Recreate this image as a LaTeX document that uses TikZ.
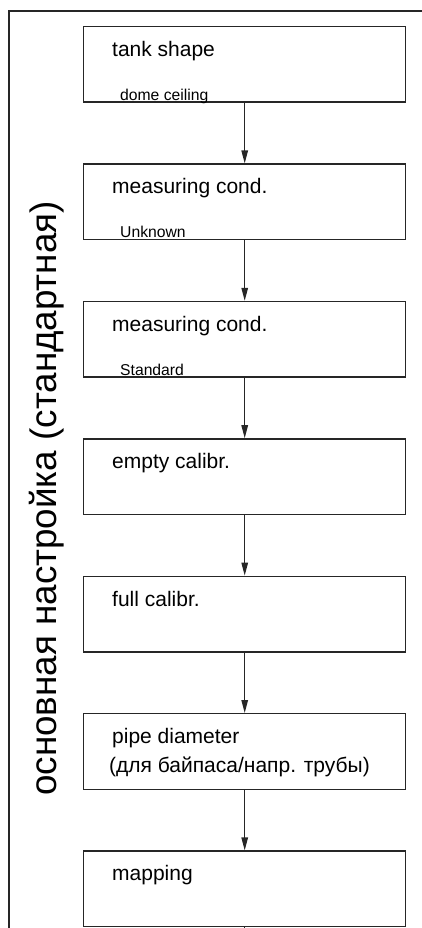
\documentclass[tikz,border=0pt]{standalone}
\usepackage{fontspec}
\setmainfont{Liberation Sans}
\usepackage{tikz}
\usetikzlibrary{positioning,arrows.meta}

\begin{document}
\begin{tikzpicture}[
  x=1pt, y=1pt,
  node distance=60.5pt,
  sbox/.style={rectangle, draw=black!85, line width=1.4pt, minimum width=322pt, minimum height=75.5pt, inner sep=0pt},
  ttl/.style={anchor=base west, inner sep=0pt, font=\fontsize{21}{29.4}\selectfont, align=left},
  sub/.style={anchor=base west, inner sep=0pt, font=\fontsize{15.7}{18}\selectfont},
  flow/.style={draw=black!85, line width=1.3pt, -{Triangle[length=13pt,width=6.5pt]}},
  frame/.style={draw=black!85, line width=1.3pt},
]
\useasboundingbox (0,0) rectangle (422,-928);

% outer frame, runs off the page on the right and bottom
\draw[frame] (422,-11) -- (9,-11) -- (9,-928);

% Steps
\node[sbox, anchor=north west] (s1) at (83,-26) {};
\node[sbox, below=of s1] (s2) {};
\node[sbox, below=of s2] (s3) {};
\node[sbox, below=of s3] (s4) {};
\node[sbox, below=of s4] (s5) {};
\node[sbox, below=of s5] (s6) {};
\node[sbox, below=of s6] (s7) {};

% Titles
\node[ttl] (t1) at ([xshift=29pt,yshift=-30.5pt]s1.north west) {tank shape};
\node[ttl] (t2) at ([xshift=29pt,yshift=-30.5pt]s2.north west) {measuring cond.};
\node[ttl] (t3) at ([xshift=29pt,yshift=-30.5pt]s3.north west) {measuring cond.};
\node[ttl] (t4) at ([xshift=29pt,yshift=-30.5pt]s4.north west) {empty calibr.};
\node[ttl] (t5) at ([xshift=29pt,yshift=-30.5pt]s5.north west) {full calibr.};
\node[ttl] (t6) at ([xshift=29pt,yshift=-30.5pt]s6.north west) {pipe diameter};
\node[ttl] (t6b) at ([xshift=26pt,yshift=-59.5pt]s6.north west) {(для байпаса/напр. трубы)};
\node[ttl] (t7) at ([xshift=29pt,yshift=-30.5pt]s7.north west) {mapping};

% Values
\node[sub] (v1) at ([xshift=37pt,yshift=2.5pt]s1.south west) {dome ceiling};
\node[sub] (v2) at ([xshift=37pt,yshift=2.5pt]s2.south west) {Unknown};
\node[sub] (v3) at ([xshift=37pt,yshift=2.5pt]s3.south west) {Standard};

% Side caption
\node[rotate=90, anchor=base, inner sep=0pt, font=\fontsize{36.8}{40}\selectfont] (side) at (56,-498.5) {основная настройка (стандартная)};

% Arrows
\coordinate (out) at (s7.south |- 0,-928);
\foreach \a/\b in {s1/s2, s2/s3, s3/s4, s4/s5, s5/s6, s6/s7}
  \draw[flow] (\a) -- (\b);
\draw[frame] (s7) -- (out);

\end{tikzpicture}
\end{document}
